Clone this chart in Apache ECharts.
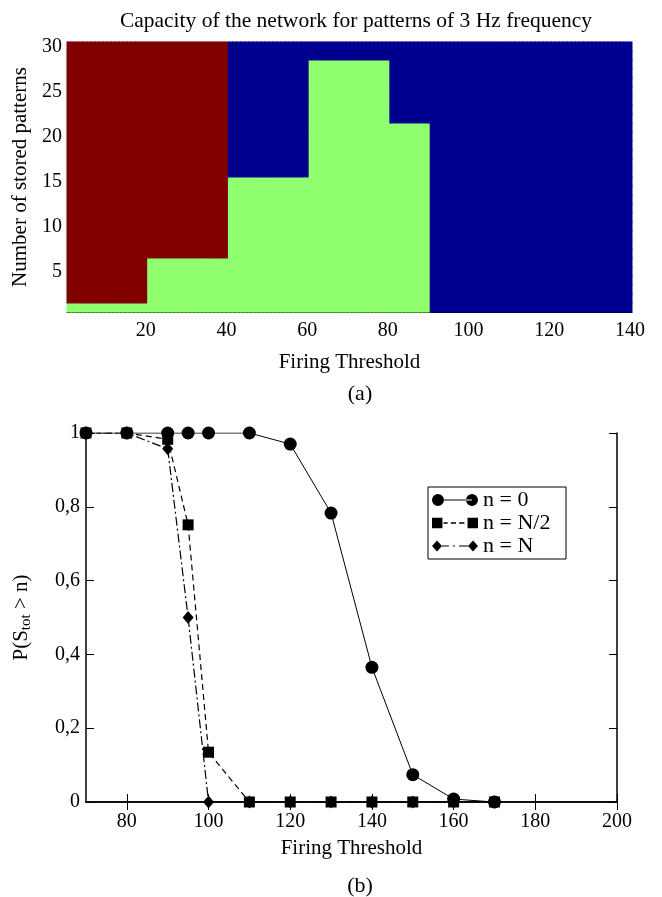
<!DOCTYPE html>
<html>
<head>
<meta charset="utf-8">
<script src="https://cdn.jsdelivr.net/npm/echarts@6/dist/echarts.min.js"></script>
<style>html,body{margin:0;padding:0;background:#fff}#c{width:662px;height:897px}</style>
</head>
<body>
<div id="c"></div>
<script>
// ---------- (a) capacity map ----------
const capX = Array.from({length: 140}, (_, i) => String(i + 1));   // firing threshold columns
const capY = Array.from({length: 30}, (_, i) => String(i + 1));    // number of stored patterns rows
const segFrom = [1, 21, 41, 61, 81, 91];
const segTo   = [20, 40, 60, 80, 90, 140];
const segGreenTop = [1, 6, 15, 28, 21, 0];   // rows 1..greenTop are class 1 (green)
const segUpper    = [2, 2, 0, 0, 0, 0];      // class above: 2 = red, 0 = blue
const capXTicks = ['20', '40', '60', '80', '100', '120', '140'];
const capYTicks = ['5', '10', '15', '20', '25', '30'];

// ---------- (b) probability curves ----------
const thr0 = [70, 80, 90, 95, 100, 110, 120, 130, 140, 150, 160, 170];
const p0   = [1, 1, 1, 1, 1, 1, 0.97, 0.783, 0.365, 0.074, 0.008, 0];
const thrHalf = [70, 80, 90, 95, 100, 110, 120, 130, 140, 150, 160, 170];
const pHalf   = [1, 1, 0.983, 0.751, 0.135, 0, 0, 0, 0, 0, 0, 0];
const thrN = [70, 80, 90, 95, 100, 110, 120, 130, 140, 150, 160, 170];
const pN   = [1, 1, 0.957, 0.5, 0, 0, 0, 0, 0, 0, 0, 0];
const bXTicks = [80, 100, 120, 140, 160, 180, 200];
const bYTicks = [0, 0.2, 0.4, 0.6, 0.8, 1];

const capData = [];
for (let s = 0; s < segFrom.length; s++) {
  for (let x = segFrom[s]; x <= segTo[s]; x++) {
    for (let y = 1; y <= 30; y++) {
      const cls = y <= segGreenTop[s] ? 1 : segUpper[s];
      capData.push([x - 1, y - 1, cls]);
    }
  }
}

const FONT = 'Liberation Serif';
const txt = {fontFamily: FONT, color: '#000', fontSize: 20};

const chart = echarts.init(document.getElementById('c'), null, {renderer: 'canvas'});

function capTickFilter(list) {
  return (idx, val) => list.indexOf(String(val)) >= 0;
}

function circlePath(cx) { return 'M' + (cx - 6) + ',6 A6,6 0 1,0 ' + (cx + 6) + ',6 A6,6 0 1,0 ' + (cx - 6) + ',6 Z '; }
const iconCircle = 'path://' + circlePath(6) + 'M12,5.4 L40,5.4 L40,6.6 L12,6.6 Z ' + circlePath(40);
const iconSquare = 'path://M1,1 L11,1 L11,11 L1,11 Z M12,5.4 L16,5.4 L16,6.6 L12,6.6 Z M19,5.4 L24,5.4 L24,6.6 L19,6.6 Z M27,5.4 L32,5.4 L32,6.6 L27,6.6 Z M35,1 L45,1 L45,11 L35,11 Z';
const iconDiamond = 'path://M0,6 L5,0.5 L10,6 L5,11.5 Z M10,5.4 L17,5.4 L17,6.6 L10,6.6 Z M21,5.4 L23,5.4 L23,6.6 L21,6.6 Z M27,5.4 L36,5.4 L36,6.6 L27,6.6 Z M36,6 L41,0.5 L46,6 L41,11.5 Z';

const bLabel = v => (v === 0 ? '0' : v === 1 ? '1' : v.toFixed(1).replace('.', ','));

chart.setOption({
  animation: false,
  backgroundColor: '#fff',
  title: [
    {text: 'Capacity of the network for patterns of 3 Hz frequency', left: 351, top: 5, textAlign: 'center',
     textStyle: {fontFamily: FONT, fontWeight: 'normal', fontSize: 21.5, color: '#000'}},
    {text: '(a)', left: 355, top: 378, textAlign: 'center',
     textStyle: {fontFamily: FONT, fontWeight: 'normal', fontSize: 22, color: '#000'}},
    {text: '(b)', left: 355, top: 870, textAlign: 'center',
     textStyle: {fontFamily: FONT, fontWeight: 'normal', fontSize: 22, color: '#000'}}
  ],
  grid: [
    {left: 67, right: 30, top: 42, height: 270},
    {left: 86, right: 45, top: 433, height: 369}
  ],
  visualMap: {
    show: false, type: 'piecewise', seriesIndex: 0, dimension: 2,
    pieces: [
      {value: 0, color: '#00008F'},
      {value: 1, color: '#8FFF70'},
      {value: 2, color: '#800000'}
    ]
  },
  legend: {
    left: 428, top: 487, orient: 'vertical',
    borderColor: '#000', borderWidth: 1, borderRadius: 0,
    padding: [2, 3, 2, 4], itemGap: 1, itemWidth: 46, itemHeight: 12,
    textStyle: {fontFamily: FONT, fontSize: 22, color: '#000', lineHeight: 20, width: 80, padding: [0, 0, 0, 0]},
    data: [
      {name: 'n = 0', icon: iconCircle},
      {name: 'n = N/2', icon: iconSquare},
      {name: 'n = N', icon: iconDiamond}
    ]
  },
  xAxis: [
    {gridIndex: 0, type: 'category', data: capX, position: 'bottom',
     name: 'Firing Threshold', nameLocation: 'middle', nameGap: 40, nameTextStyle: Object.assign({}, txt, {fontSize: 21}),
     axisLine: {lineStyle: {color: '#000', width: 1}},
     axisTick: {inside: true, length: 5, alignWithLabel: true, interval: capTickFilter(capXTicks), lineStyle: {color: '#000'}},
     axisLabel: Object.assign({}, txt, {interval: capTickFilter(capXTicks), margin: 9}),
     splitLine: {show: false}},
    {gridIndex: 0, type: 'category', data: capX, position: 'top',
     axisLine: {show: false},
     axisTick: {inside: true, length: 5, alignWithLabel: true, interval: capTickFilter(capXTicks), lineStyle: {color: '#000'}},
     axisLabel: {show: false}, splitLine: {show: false}},
    {gridIndex: 1, type: 'value', min: 70, max: 200, position: 'bottom',
     name: 'Firing Threshold', nameLocation: 'middle', nameGap: 36, nameTextStyle: Object.assign({}, txt, {fontSize: 21}),
     axisLine: {lineStyle: {color: '#000', width: 1.5}},
     axisTick: {inside: true, length: 8, customValues: bXTicks, lineStyle: {color: '#000'}},
     axisLabel: Object.assign({}, txt, {customValues: bXTicks, margin: 10}),
     splitLine: {show: false}},
    {gridIndex: 1, type: 'value', min: 70, max: 200, position: 'top',
     axisLine: {lineStyle: {color: '#000', width: 1.5}},
     axisTick: {inside: true, length: 8, customValues: bXTicks, lineStyle: {color: '#000'}},
     axisLabel: {show: false}, splitLine: {show: false}}
  ],
  yAxis: [
    {gridIndex: 0, type: 'category', data: capY, position: 'left',
     name: 'Number of stored patterns', nameLocation: 'middle', nameGap: 34, nameTextStyle: Object.assign({}, txt, {fontSize: 21}),
     axisLine: {lineStyle: {color: '#000', width: 1}},
     axisTick: {inside: true, length: 5, alignWithLabel: true, interval: capTickFilter(capYTicks), lineStyle: {color: '#000'}},
     axisLabel: Object.assign({}, txt, {interval: capTickFilter(capYTicks), margin: 5}),
     splitLine: {show: false}},
    {gridIndex: 0, type: 'category', data: capY, position: 'right',
     axisLine: {show: false},
     axisTick: {inside: true, length: 5, alignWithLabel: true, interval: capTickFilter(capYTicks), lineStyle: {color: '#000'}},
     axisLabel: {show: false}, splitLine: {show: false}},
    {gridIndex: 1, type: 'value', min: 0, max: 1, position: 'left',
     name: 'P(S{sub|tot} > n)', nameLocation: 'middle', nameGap: 52,
     nameTextStyle: Object.assign({}, txt, {fontSize: 21, rich: {sub: {fontFamily: FONT, fontSize: 15, color: '#000', padding: [11, 0, 0, 0]}}}),
     axisLine: {lineStyle: {color: '#000', width: 1.5}},
     axisTick: {inside: true, length: 8, customValues: bYTicks, lineStyle: {color: '#000'}},
     axisLabel: Object.assign({}, txt, {customValues: bYTicks, formatter: bLabel, margin: 6}),
     splitLine: {show: false}},
    {gridIndex: 1, type: 'value', min: 0, max: 1, position: 'right',
     axisLine: {lineStyle: {color: '#000', width: 1.5}},
     axisTick: {inside: true, length: 8, customValues: bYTicks, lineStyle: {color: '#000'}},
     axisLabel: {show: false}, splitLine: {show: false}}
  ],
  series: [
    {type: 'custom', xAxisIndex: 0, yAxisIndex: 0, data: capData, progressive: 0, silent: true,
     encode: {x: 0, y: 1},
     renderItem: function (params, api) {
       const c = api.coord([api.value(0), api.value(1)]);
       const sz = api.size([1, 1]);
       return {
         type: 'rect',
         shape: {x: c[0] - sz[0] / 2 - 0.5, y: c[1] - sz[1] / 2 - 0.5, width: sz[0] + 1, height: sz[1] + 1},
         style: {fill: api.visual('color')}
       };
     }},
    {name: 'n = N', type: 'line', xAxisIndex: 2, yAxisIndex: 2, color: '#000',
     data: thrN.map((x, i) => [x, pN[i]]), symbol: 'diamond', symbolSize: [11, 13],
     lineStyle: {color: '#000', width: 1.2, type: [9, 3, 2, 3]}, itemStyle: {color: '#000'}},
    {name: 'n = N/2', type: 'line', xAxisIndex: 2, yAxisIndex: 2, color: '#000',
     data: thrHalf.map((x, i) => [x, pHalf[i]]), symbol: 'rect', symbolSize: 11,
     lineStyle: {color: '#000', width: 1.2, type: [6, 4]}, itemStyle: {color: '#000'}},
    {name: 'n = 0', type: 'line', xAxisIndex: 2, yAxisIndex: 2, color: '#000',
     data: thr0.map((x, i) => [x, p0[i]]), symbol: 'circle', symbolSize: 13,
     lineStyle: {color: '#000', width: 1}, itemStyle: {color: '#000'}}
  ]
});
</script>
</body>
</html>
